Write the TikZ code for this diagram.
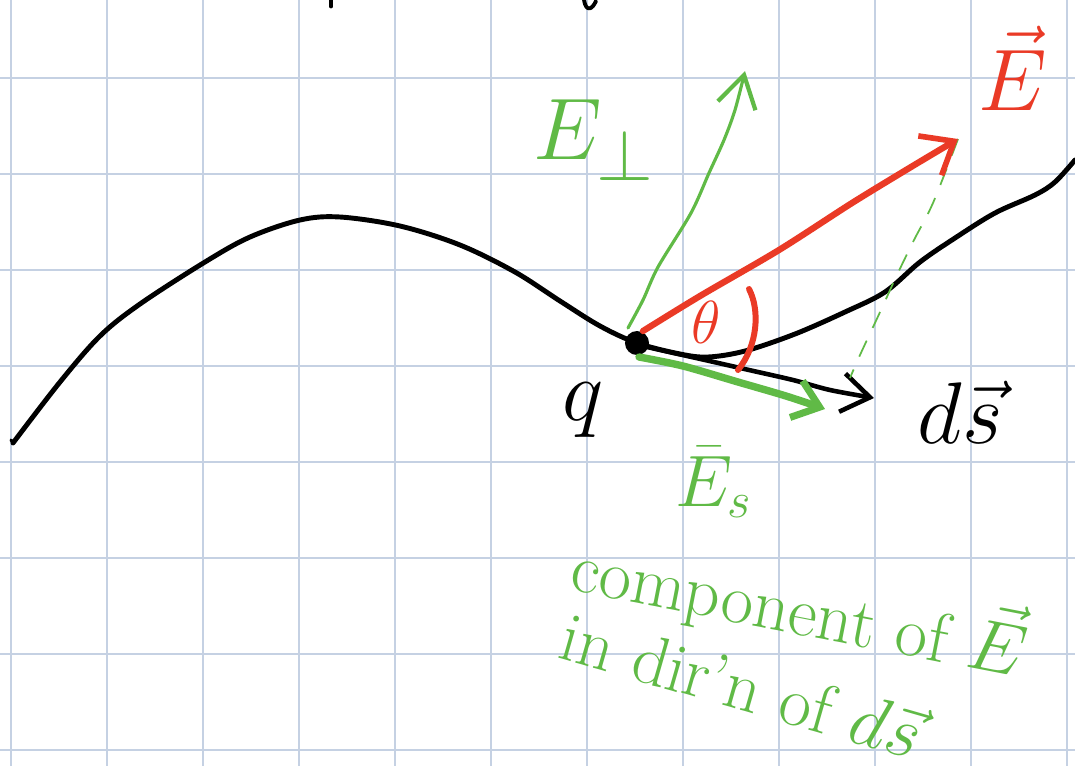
\documentclass[tikz,border=0pt]{standalone}
\usetikzlibrary{arrows.meta}
\definecolor{gridc}{RGB}{197,209,227}
\definecolor{pengreen}{RGB}{96,186,70}
\definecolor{penred}{RGB}{234,58,38}
\begin{document}
\begin{tikzpicture}[x=0.01cm,y=-0.01cm,
  gridline/.style={draw=gridc, line width=0.6pt},
  curve/.style={draw=black, line width=1.4pt, line cap=round, line join=round},
  dsvec/.style={draw=black, line width=1.3pt, line cap=round, line join=round,
    -{Straight Barb[length=8pt,width=11pt,line width=1.3pt]}},
  redvec/.style={draw=penred, line width=1.8pt, line cap=round, line join=round,
    -{Straight Barb[length=8pt,width=13pt,line width=1.6pt]}},
  perpvec/.style={draw=pengreen, line width=0.9pt, line cap=round, line join=round,
    -{Straight Barb[length=9pt,width=11pt,line width=1.2pt]}},
  svec/.style={draw=pengreen, line width=2.1pt, line cap=round, line join=round,
    -{Straight Barb[length=7pt,width=11pt,line width=2pt]}},
  projline/.style={draw=pengreen, line width=0.5pt, dash pattern=on 5pt off 4pt},
  dot/.style={circle, fill=black, inner sep=0pt, minimum size=2.4mm},
  lbl/.style={inner sep=0pt},
  note/.style={inner sep=0pt, text=pengreen, font=\fontsize{20}{24}\selectfont, align=left}]
\useasboundingbox (0,0) rectangle (1075,766);
\fill[white] (0,0) rectangle (1075,766);
% grid
\foreach \gx in {11,107,...,1067} {\draw[gridline] (\gx,0) -- (\gx,766);}
\foreach \gy in {78,174,...,750} {\draw[gridline] (0,\gy) -- (1075,\gy);}
% cut-off marks at the top
\draw[curve] (331,0) -- (331,6);
\draw[curve, line width=1.1pt] (584,0) .. controls (586,12) and (592,10) .. (596,1);
% point charge
\node[dot] (q) at (637,343) {};
\coordinate (cL) at (13,443);
\coordinate (cR) at (1075,160);
% main curve
\draw[curve] plot[smooth, tension=0.55] coordinates {(cL) (60,382) (100,336) (140,304) (205,262) (250,237) (300,220) (340,217) (400,226) (460,245) (515,272) (560,301) (600,326) (q) (680,354) (708,357) (745,351) (795,334) (845,312) (885,292) (920,262) (955,238) (995,213) (1035,195) (1055,182) (cR)};
\draw[curve, line width=0.9pt] (cL) -- (11,440);
% tips
\coordinate (dsTip) at (874,398);
\coordinate (ETip) at (958,139);
\coordinate (EpTip) at (745,71);
\coordinate (EsTip) at (825,409);
\coordinate (projEnd) at (850,378);
% vectors
\draw[dsvec] plot[smooth, tension=0.5] coordinates {(647,347) (705,360) (749,370) (793,380) (830,390) (dsTip)};
\draw[projline] plot[smooth, tension=0.5] coordinates {(ETip) (933,203) (914,240) (896,277) (881,310) (860,355) (projEnd)};
\draw[perpvec] plot[smooth, tension=0.5] coordinates {(628,328) (643,300) (658,267) (691,213) (709,173) (724,140) (735,110) (EpTip)};
\draw[redvec] plot[smooth, tension=0.5] coordinates {(643,331) (700,296) (779,250) (852,203) (911,167) (ETip)};
\draw[svec] plot[smooth, tension=0.5] coordinates {(639,357) (683,366) (738,382) (786,396) (EsTip)};
% angle arc
\coordinate (arcA) at (749,289);
\coordinate (arcB) at (738,370);
\draw[draw=penred, line width=1.7pt, line cap=round] (arcA) .. controls (760,310) and (758,345) .. (arcB);
% labels
\node[lbl, text=penred, font=\fontsize{17}{20}\selectfont] (theta) at (706,322) {$\theta$};
\node[lbl, font=\fontsize{30}{34}\selectfont] (qlbl) at (583,410) {$q$};
\node[lbl, font=\fontsize{26}{30}\selectfont] (dslbl) at (960,412) {$d\vec{s}$};
\node[lbl, text=penred, font=\fontsize{24}{28}\selectfont] (Elbl) at (1013,68) {$\vec{E}$};
\node[lbl, text=pengreen, font=\fontsize{32}{36}\selectfont] (Eperp) at (594,140) {$E_{\perp}$};
\node[lbl, text=pengreen, font=\fontsize{22}{26}\selectfont] (Eslbl) at (714,482) {$\bar{E}_s$};
\node[note, rotate=-11] (note1) at (800,606) {component of $\vec{E}$};
\node[note, rotate=-16] (note2) at (742,684) {in dir'n of $d\vec{s}$};
\end{tikzpicture}
\end{document}
